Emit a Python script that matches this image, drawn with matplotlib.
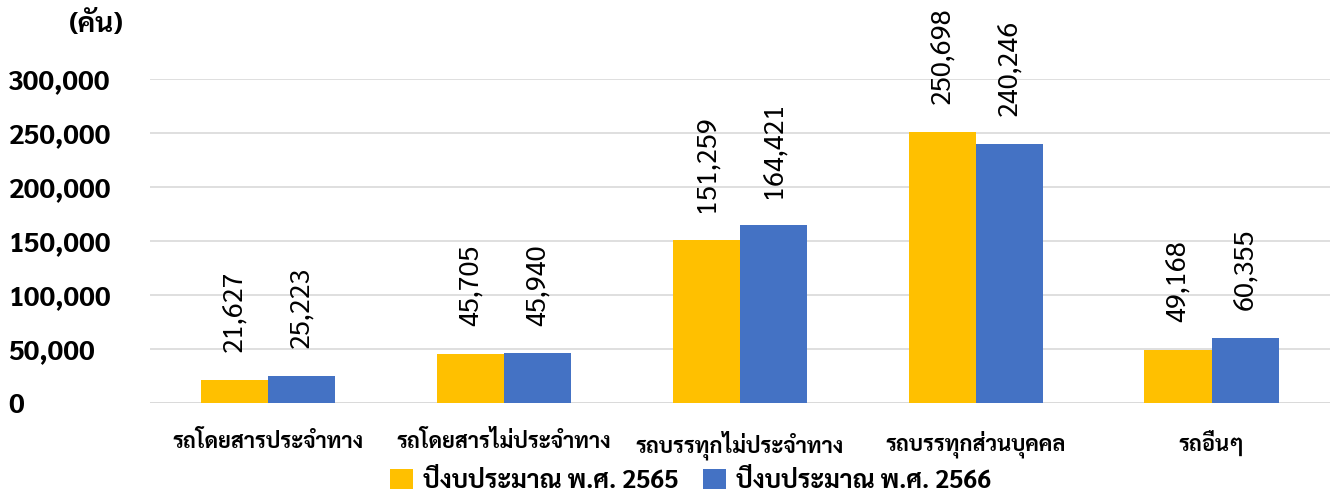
import matplotlib
matplotlib.use("Agg")
import matplotlib.pyplot as plt
import numpy as np

plt.rcParams['font.family'] = ['Sarabun', 'DejaVu Sans']

categories = ['รถโดยสารประจำทาง', 'รถโดยสารไม่ประจำทาง', 'รถบรรทุกไม่ประจำทาง',
              'รถบรรทุกส่วนบุคคล', 'รถอื่นๆ']
y2565 = [21627, 45705, 151259, 250698, 49168]
y2566 = [25223, 45940, 164421, 240246, 60355]
series_names = ['ปีงบประมาณ พ.ศ. 2565', 'ปีงบประมาณ พ.ศ. 2566']
yticks = [0, 50000, 100000, 150000, 200000, 250000, 300000]

fig = plt.figure(figsize=(13.33, 4.96), dpi=100)
ax = fig.add_axes([0.1125, 0.1875, 0.885, 0.6532])

x = np.arange(len(categories))
w = 0.285
b1 = ax.bar(x - w/2, y2565, w, color='#FFC000', label=series_names[0], zorder=3)
b2 = ax.bar(x + w/2, y2566, w, color='#4472C4', label=series_names[1], zorder=3)

# rotated value labels above bars
for bars in (b1, b2):
    for r in bars:
        ax.annotate(f'{int(r.get_height()):,}', (r.get_x() + r.get_width()/2, r.get_height()),
                    xytext=(0, 20), textcoords='offset points', rotation=90,
                    ha='center', va='bottom', fontsize=19.5, annotation_clip=False)

ax.set_xlim(-0.5, len(categories) - 0.5)
ax.set_ylim(0, 300000)
ax.set_yticks(yticks)
ax.set_yticklabels([f'{v:,}' for v in yticks], fontsize=20, fontweight='bold')
ax.set_xticks(x)
ax.set_xticklabels(categories, fontsize=15.7, fontweight='bold')
ax.tick_params(length=0)
ax.tick_params(axis='y', pad=102)
ax.tick_params(axis='x', pad=20)
for lab in ax.get_yticklabels():
    lab.set_horizontalalignment('left')
ax.grid(axis='y', color='#D9D9D9', linewidth=1.2, zorder=0)
for s in ax.spines.values():
    s.set_visible(False)
ax.axhline(0, color='#D9D9D9', linewidth=1.2, zorder=1)

fig.text(0.052, 0.95, '(คัน)', fontsize=20, fontweight='bold', va='center')

fig.legend(handles=[b1, b2], loc='center', bbox_to_anchor=(0.518, 0.03), ncol=2,
           frameon=False, handlelength=0.9, handleheight=0.9,
           columnspacing=1.0, handletextpad=0.4, prop={'weight': 'bold', 'size': 18})

fig.savefig('out.png', dpi=100)
